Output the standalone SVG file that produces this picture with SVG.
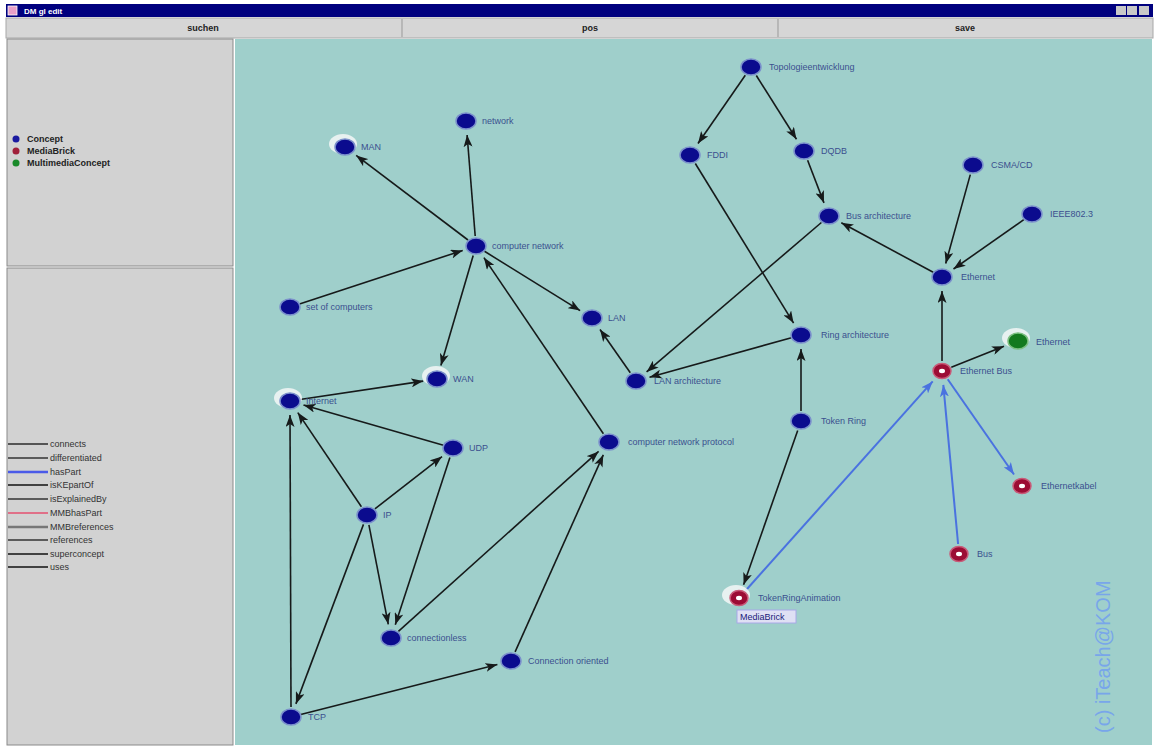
<svg xmlns="http://www.w3.org/2000/svg" width="1155" height="746" viewBox="0 0 1155 746">
<style>
.lbl{font-family:"Liberation Sans",Arial,sans-serif;font-size:9px;fill:#3b4f8f}
.ui{font-family:"Liberation Sans",Arial,sans-serif;font-size:9px;fill:#222;font-weight:bold}
.leg{font-family:"Liberation Sans",Arial,sans-serif;font-size:9px;fill:#333}
.e{stroke:#161a1a;stroke-width:1.6;fill:none;marker-end:url(#ah)}
.b{stroke:#4a72e0;stroke-width:2;fill:none;marker-end:url(#ahb)}
.c{fill:#0b0b8e;stroke:#7b90cc;stroke-width:1.5}
.m{fill:#9c0c34;stroke:#c85a78;stroke-width:1.5}
.g{fill:#137a1e;stroke:#7bbf80;stroke-width:1.5}
.dot{fill:#ffffff}
.halo{fill:#eef4f4;opacity:0.9}
</style>
<defs>
<marker id="ah" markerUnits="userSpaceOnUse" markerWidth="13" markerHeight="9" refX="12" refY="4.5" orient="auto"><path d="M0,0 L12,4.5 L0,9 L3,4.5 z" fill="#161a1a"/></marker>
<marker id="ahb" markerUnits="userSpaceOnUse" markerWidth="13" markerHeight="9" refX="12" refY="4.5" orient="auto"><path d="M0,0 L12,4.5 L0,9 L3,4.5 z" fill="#4a72e0"/></marker>
</defs>
<rect x="0" y="0" width="1155" height="746" fill="#ffffff"/>
<g id="window">
<rect x="6" y="4" width="1147" height="13" fill="#00007e"/>
<rect x="8" y="6" width="9" height="9" fill="#e8a0c8" stroke="#ffffff" stroke-width="0.8"/>
<text x="24" y="14" font-family="Liberation Sans,Arial,sans-serif" font-size="8" font-weight="bold" fill="#ffffff">DM gl edit</text>
<rect x="1116" y="6" width="10" height="9" fill="#c8c8c8"/>
<rect x="1127" y="6" width="10" height="9" fill="#c8c8c8"/>
<rect x="1139" y="6" width="10" height="9" fill="#c8c8c8"/>
<rect x="6" y="18" width="1147" height="20" fill="#d6d6d6" stroke="#a8a8a8" stroke-width="1"/>
<line x1="402" y1="19" x2="402" y2="37" stroke="#999"/>
<line x1="778" y1="19" x2="778" y2="37" stroke="#999"/>
<text class="ui" x="203" y="31" text-anchor="middle">suchen</text>
<text class="ui" x="590" y="31" text-anchor="middle">pos</text>
<text class="ui" x="965" y="31" text-anchor="middle">save</text>
<rect x="7" y="39" width="226" height="227" fill="#d2d2d2" stroke="#8a8a8a"/>
<rect x="7" y="268" width="226" height="477" fill="#d2d2d2" stroke="#8a8a8a"/>
<rect x="235" y="39" width="917" height="706" fill="#9fcfcb"/>
</g>
<g id="legend">
<circle cx="16" cy="139" r="3.5" fill="#1a1aa0"/>
<circle cx="16" cy="151" r="3.5" fill="#a0203a"/>
<circle cx="16" cy="163" r="3.5" fill="#1a8a2a"/>
<text class="ui" x="27" y="142">Concept</text>
<text class="ui" x="27" y="154">MediaBrick</text>
<text class="ui" x="27" y="166">MultimediaConcept</text>
<line x1="8" y1="444" x2="48" y2="444" stroke="#555" stroke-width="2"/>
<line x1="8" y1="458" x2="48" y2="458" stroke="#333" stroke-width="1.5"/>
<line x1="8" y1="472" x2="48" y2="472" stroke="#4a5ae8" stroke-width="2.5"/>
<line x1="8" y1="485" x2="48" y2="485" stroke="#111" stroke-width="1.5"/>
<line x1="8" y1="499" x2="48" y2="499" stroke="#333" stroke-width="1.5"/>
<line x1="8" y1="513" x2="48" y2="513" stroke="#e07088" stroke-width="2"/>
<line x1="8" y1="527" x2="48" y2="527" stroke="#777" stroke-width="2.5"/>
<line x1="8" y1="540" x2="48" y2="540" stroke="#333" stroke-width="1.5"/>
<line x1="8" y1="554" x2="48" y2="554" stroke="#111" stroke-width="1.5"/>
<line x1="8" y1="567" x2="48" y2="567" stroke="#111" stroke-width="1.5"/>
<text class="leg" x="50" y="447">connects</text>
<text class="leg" x="50" y="461">differentiated</text>
<text class="leg" x="50" y="475">hasPart</text>
<text class="leg" x="50" y="488">isKEpartOf</text>
<text class="leg" x="50" y="502">isExplainedBy</text>
<text class="leg" x="50" y="516">MMBhasPart</text>
<text class="leg" x="50" y="530">MMBreferences</text>
<text class="leg" x="50" y="543">references</text>
<text class="leg" x="50" y="557">superconcept</text>
<text class="leg" x="50" y="570">uses</text>
</g>
<g id="connectors">
<line class="e" x1="468" y1="240" x2="356.2" y2="155.4"/>
<line class="e" x1="475.2" y1="236" x2="467.1" y2="135"/>
<line class="e" x1="299.5" y1="303.9" x2="462.7" y2="250.4"/>
<line class="e" x1="484.5" y1="251.3" x2="580.1" y2="310.6"/>
<line class="e" x1="473.2" y1="255.6" x2="440.9" y2="365.6"/>
<line class="e" x1="603.4" y1="433.7" x2="483.9" y2="257.6"/>
<line class="e" x1="299.9" y1="399.5" x2="423.2" y2="381.1"/>
<line class="e" x1="443.4" y1="445.2" x2="303.5" y2="404.9"/>
<line class="e" x1="361.4" y1="506.7" x2="297.8" y2="412.6"/>
<line class="e" x1="374.9" y1="508.9" x2="442" y2="456.6"/>
<line class="e" x1="368.9" y1="524.8" x2="388.3" y2="624.3"/>
<line class="e" x1="449.9" y1="457.5" x2="395.3" y2="624.7"/>
<line class="e" x1="363.5" y1="524.4" x2="295.9" y2="703.9"/>
<line class="e" x1="291" y1="707" x2="290" y2="415"/>
<line class="e" x1="300.7" y1="714.5" x2="497.4" y2="664.5"/>
<line class="e" x1="398.4" y1="631.3" x2="598.6" y2="451.4"/>
<line class="e" x1="515.1" y1="651.9" x2="603.3" y2="454.8"/>
<line class="e" x1="630.3" y1="372.8" x2="600" y2="329.5"/>
<line class="e" x1="821.4" y1="222.5" x2="646.6" y2="371.9"/>
<line class="e" x1="791.4" y1="337.7" x2="649.5" y2="377.2"/>
<line class="e" x1="695.3" y1="163.5" x2="793.6" y2="323.1"/>
<line class="e" x1="745.3" y1="75.2" x2="698" y2="143.5"/>
<line class="e" x1="756.3" y1="75.5" x2="796.5" y2="139.2"/>
<line class="e" x1="807.6" y1="160.3" x2="824" y2="202.9"/>
<line class="e" x1="933.2" y1="272.3" x2="841.3" y2="222.7"/>
<line class="e" x1="970.3" y1="174.6" x2="945.7" y2="263.5"/>
<line class="e" x1="1023.8" y1="219.7" x2="953.5" y2="269"/>
<line class="e" x1="942" y1="361" x2="942" y2="291"/>
<line class="e" x1="951.3" y1="367.3" x2="1004" y2="346.2"/>
<line class="e" x1="801" y1="411" x2="801" y2="349"/>
<line class="e" x1="797.7" y1="430.4" x2="743.6" y2="584.8"/>
<line class="b" x1="745.7" y1="590.5" x2="932.7" y2="381.4"/>
<line class="b" x1="958.1" y1="544" x2="943.3" y2="384.9"/>
<line class="b" x1="947.7" y1="379.2" x2="1014" y2="474.5"/>
</g>
<g id="n-man"><ellipse class="halo" cx="343" cy="144" rx="14" ry="10"/><ellipse class="c" cx="345" cy="147" rx="10" ry="8"/><text class="lbl" x="361" y="150">MAN</text></g>
<g id="n-network"><ellipse class="c" cx="466" cy="121" rx="10" ry="8"/><text class="lbl" x="482" y="124">network</text></g>
<g id="n-computer-network"><ellipse class="c" cx="476" cy="246" rx="10" ry="8"/><text class="lbl" x="492" y="249">computer network</text></g>
<g id="n-set-of-computers"><ellipse class="c" cx="290" cy="307" rx="10" ry="8"/><text class="lbl" x="306" y="310">set of computers</text></g>
<g id="n-lan"><ellipse class="c" cx="592" cy="318" rx="10" ry="8"/><text class="lbl" x="608" y="321">LAN</text></g>
<g id="n-wan"><ellipse class="halo" cx="436" cy="376" rx="14" ry="10"/><ellipse class="c" cx="437" cy="379" rx="10" ry="8"/><text class="lbl" x="453" y="382">WAN</text></g>
<g id="n-internet"><ellipse class="halo" cx="288" cy="398" rx="14" ry="10"/><ellipse class="c" cx="290" cy="401" rx="10" ry="8"/><text class="lbl" x="306" y="404">Internet</text></g>
<g id="n-udp"><ellipse class="c" cx="453" cy="448" rx="10" ry="8"/><text class="lbl" x="469" y="451">UDP</text></g>
<g id="n-ip"><ellipse class="c" cx="367" cy="515" rx="10" ry="8"/><text class="lbl" x="383" y="518">IP</text></g>
<g id="n-connectionless"><ellipse class="c" cx="391" cy="638" rx="10" ry="8"/><text class="lbl" x="407" y="641">connectionless</text></g>
<g id="n-connection-oriented"><ellipse class="c" cx="511" cy="661" rx="10" ry="8"/><text class="lbl" x="528" y="664">Connection oriented</text></g>
<g id="n-tcp"><ellipse class="c" cx="291" cy="717" rx="10" ry="8"/><text class="lbl" x="308" y="720">TCP</text></g>
<g id="n-cnp"><ellipse class="c" cx="609" cy="442" rx="10" ry="8"/><text class="lbl" x="628" y="445">computer network protocol</text></g>
<g id="n-lan-arch"><ellipse class="c" cx="636" cy="381" rx="10" ry="8"/><text class="lbl" x="654" y="384">LAN architecture</text></g>
<g id="n-topo"><ellipse class="c" cx="751" cy="67" rx="10" ry="8"/><text class="lbl" x="769" y="70">Topologieentwicklung</text></g>
<g id="n-fddi"><ellipse class="c" cx="690" cy="155" rx="10" ry="8"/><text class="lbl" x="707" y="158">FDDI</text></g>
<g id="n-dqdb"><ellipse class="c" cx="804" cy="151" rx="10" ry="8"/><text class="lbl" x="821" y="154">DQDB</text></g>
<g id="n-bus-arch"><ellipse class="c" cx="829" cy="216" rx="10" ry="8"/><text class="lbl" x="846" y="219">Bus architecture</text></g>
<g id="n-ring-arch"><ellipse class="c" cx="801" cy="335" rx="10" ry="8"/><text class="lbl" x="821" y="338">Ring architecture</text></g>
<g id="n-token-ring"><ellipse class="c" cx="801" cy="421" rx="10" ry="8"/><text class="lbl" x="821" y="424">Token Ring</text></g>
<g id="n-csma"><ellipse class="c" cx="973" cy="165" rx="10" ry="8"/><text class="lbl" x="991" y="168">CSMA/CD</text></g>
<g id="n-ieee"><ellipse class="c" cx="1032" cy="214" rx="10" ry="8"/><text class="lbl" x="1050" y="217">IEEE802.3</text></g>
<g id="n-ethernet"><ellipse class="c" cx="942" cy="277" rx="10" ry="8"/><text class="lbl" x="961" y="280">Ethernet</text></g>
<g id="n-ethernet-mm"><ellipse class="halo" cx="1016" cy="338" rx="14" ry="10"/><ellipse class="g" cx="1018" cy="341" rx="10" ry="8"/><text class="lbl" x="1036" y="345">Ethernet</text></g>
<g id="n-ethernet-bus"><ellipse class="m" cx="942" cy="371" rx="9" ry="7.5"/><ellipse class="dot" cx="942" cy="371" rx="3" ry="2.2"/><text class="lbl" x="960" y="374">Ethernet Bus</text></g>
<g id="n-ethernetkabel"><ellipse class="m" cx="1022" cy="486" rx="9" ry="7.5"/><ellipse class="dot" cx="1022" cy="486" rx="3" ry="2.2"/><text class="lbl" x="1041" y="489">Ethernetkabel</text></g>
<g id="n-bus"><ellipse class="m" cx="959" cy="554" rx="9" ry="7.5"/><ellipse class="dot" cx="959" cy="554" rx="3" ry="2.2"/><text class="lbl" x="977" y="557">Bus</text></g>
<g id="n-tokenring-anim"><ellipse class="halo" cx="736" cy="595" rx="14" ry="10"/><ellipse class="m" cx="739" cy="598" rx="9" ry="7.5"/><ellipse class="dot" cx="739" cy="598" rx="3" ry="2.2"/><text class="lbl" x="758" y="601">TokenRingAnimation</text>
<rect x="737" y="610" width="59" height="13" fill="#dfe0f4" stroke="#a8a8e8" stroke-width="1"/><text class="lbl" x="740" y="620" style="fill:#1a1a7a">MediaBrick</text></g>
<text x="1110" y="733" transform="rotate(-90 1110 733)" font-family="Liberation Sans,Arial,sans-serif" font-size="20" fill="#78a6ea">(c) iTeach@KOM</text>
</svg>
